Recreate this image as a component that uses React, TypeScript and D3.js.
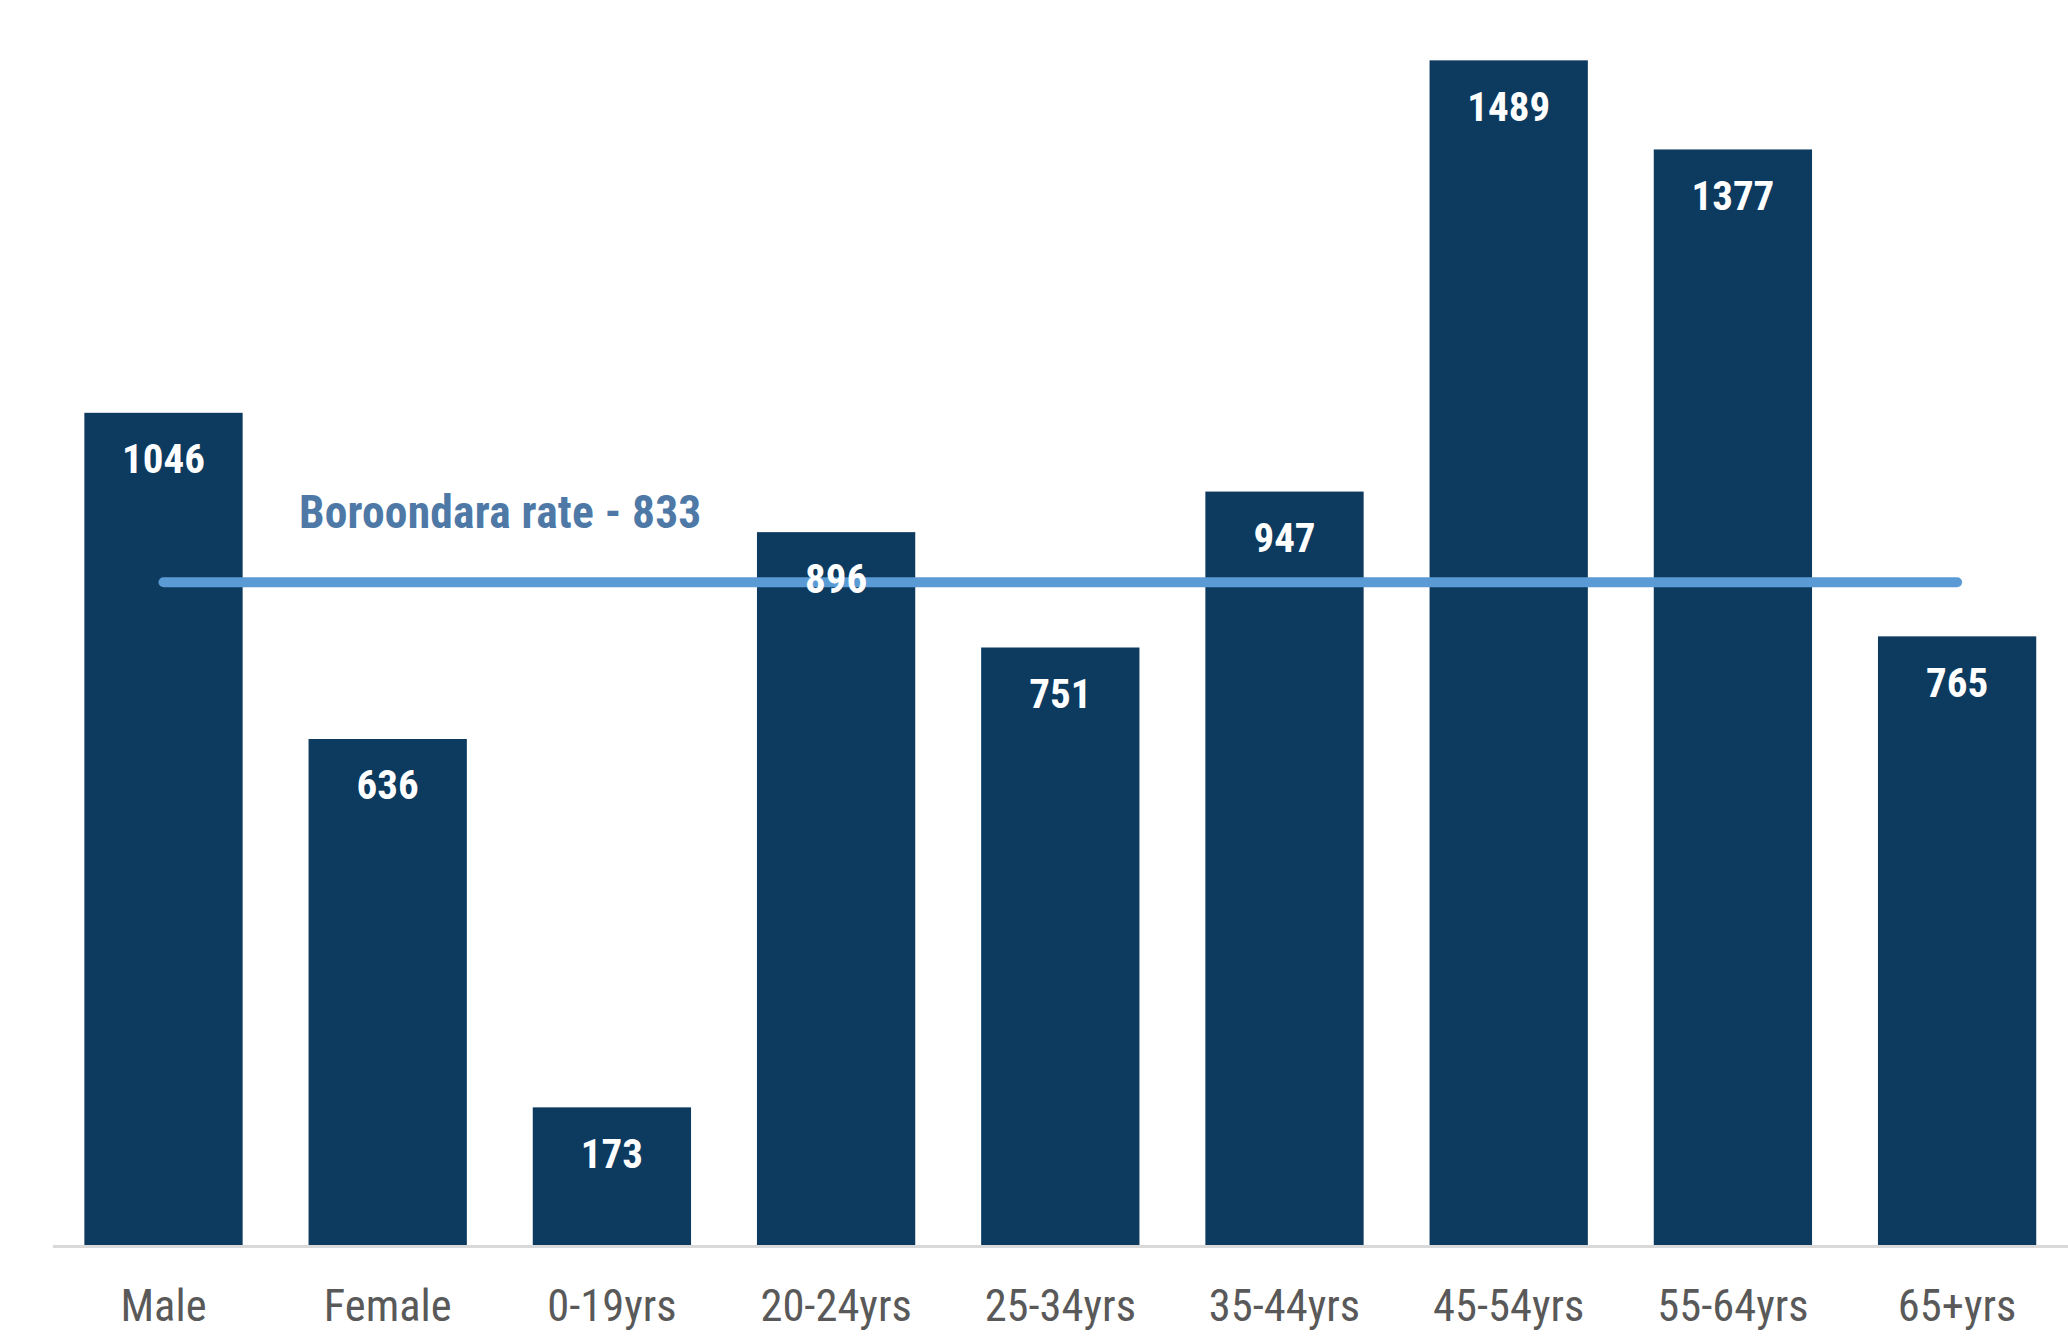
import React from "react";
import * as d3 from "d3";

const categories = ["Male", "Female", "0-19yrs", "20-24yrs", "25-34yrs", "35-44yrs", "45-54yrs", "55-64yrs", "65+yrs"];
const values = [1046, 636, 173, 896, 751, 947, 1489, 1377, 765];
const referenceValue = 833;
const referenceLabel = "Boroondara rate - 833";

const W = 2068;
const H = 1337;
const FONT = "'Roboto Condensed', 'Liberation Sans Narrow', 'DejaVu Sans Condensed', Roboto, sans-serif";

export default function App() {
  const x = d3.scaleBand<string>().domain(categories).range([51.4, 2069.2]).paddingInner(0.294).paddingOuter(0.147);
  const y = d3.scaleLinear().domain([0, 1600]).range([1245, 1245 - 1600 * 0.7956]);
  const bw = x.bandwidth();
  const refY = y(referenceValue);
  const first = categories[0];
  const last = categories[categories.length - 1];

  return (
    <svg width={W} height={H} style={{ position: "absolute", left: 0, top: 0, background: "#fff" }} fontFamily={FONT}>
      <rect x={0} y={0} width={W} height={H} fill="#ffffff" />
      {categories.map((c, i) => (
        <rect key={c} x={x(c)} y={y(values[i])} width={bw} height={y(0) - y(values[i])} fill="#0D3A5F" />
      ))}
      <line x1={53} x2={W} y1={y(0) + 1.5} y2={y(0) + 1.5} stroke="#D9D9D9" strokeWidth={3} />
      <line
        x1={(x(first) as number) + bw / 2}
        x2={(x(last) as number) + bw / 2}
        y1={refY}
        y2={refY}
        stroke="#5B9BD5"
        strokeWidth={10}
        strokeLinecap="round"
      />
      <text x={299} y={528} fill="#4E79A7" fontSize={45.5} fontWeight={700} letterSpacing={0.2}>
        {referenceLabel}
      </text>
      {categories.map((c, i) => (
        <text
          key={"v" + c}
          x={(x(c) as number) + bw / 2}
          y={y(values[i]) + 60.5}
          textAnchor="middle"
          fill="#ffffff"
          fontSize={41}
          fontWeight={700}
        >
          {values[i]}
        </text>
      ))}
      {categories.map((c) => (
        <text key={"l" + c} x={(x(c) as number) + bw / 2} y={1321} textAnchor="middle" fill="#595959" fontSize={44.5}>
          {c}
        </text>
      ))}
    </svg>
  );
}
